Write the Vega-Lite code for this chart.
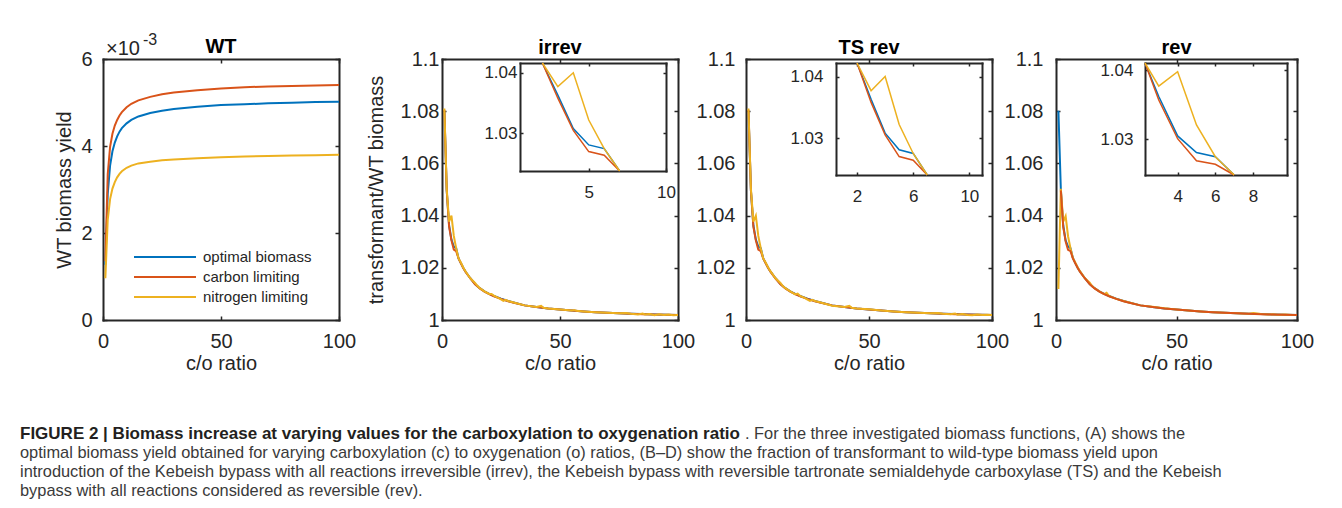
{
"$schema": "https://vega.github.io/schema/vega-lite/v6.json",
"background": "white",
"padding": {"left": 20, "top": 32, "right": 5, "bottom": 5},
"config": {
 "font": "Liberation Sans",
 "view": {"stroke": null},
 "axis": {"domainColor": "#262626", "domainWidth": 2, "domainCap": "square", "tickColor": "#262626", "tickWidth": 1.5, "tickSize": -4, "labelColor": "#262626", "titleColor": "#262626", "labelFont": "Liberation Sans", "titleFont": "Liberation Sans", "labelFontSize": 20, "titleFontSize": 20, "titleFontWeight": "normal", "grid": false, "labelFlush": false, "labelOverlap": false},
 "axisX": {"labelPadding": 15, "titlePadding": 2},
 "axisY": {"labelPadding": 15, "titlePadding": 6},
 "title": {"fontSize": 20, "fontWeight": "bold", "color": "#000000", "font": "Liberation Sans"}
},
"datasets": {
 "wt": [
  {"s":"optimal biomass","x":1,"y":0.00127},{"s":"optimal biomass","x":2,"y":0.0029},{"s":"optimal biomass","x":3,"y":0.00355},{"s":"optimal biomass","x":4,"y":0.00388},{"s":"optimal biomass","x":5,"y":0.00408},{"s":"optimal biomass","x":6,"y":0.00422},{"s":"optimal biomass","x":7,"y":0.00433},{"s":"optimal biomass","x":8,"y":0.00441},{"s":"optimal biomass","x":10,"y":0.00452},{"s":"optimal biomass","x":12,"y":0.0046},{"s":"optimal biomass","x":15,"y":0.00468},{"s":"optimal biomass","x":20,"y":0.00476},{"s":"optimal biomass","x":25,"y":0.00481},{"s":"optimal biomass","x":30,"y":0.00485},{"s":"optimal biomass","x":40,"y":0.0049},{"s":"optimal biomass","x":50,"y":0.00494},{"s":"optimal biomass","x":60,"y":0.00496},{"s":"optimal biomass","x":70,"y":0.00498},{"s":"optimal biomass","x":80,"y":0.004995},{"s":"optimal biomass","x":90,"y":0.00501},{"s":"optimal biomass","x":100,"y":0.00502},
  {"s":"carbon limiting","x":1,"y":0.00135},{"s":"carbon limiting","x":2,"y":0.00335},{"s":"carbon limiting","x":3,"y":0.00398},{"s":"carbon limiting","x":4,"y":0.00428},{"s":"carbon limiting","x":5,"y":0.00447},{"s":"carbon limiting","x":6,"y":0.0046},{"s":"carbon limiting","x":7,"y":0.0047},{"s":"carbon limiting","x":8,"y":0.00478},{"s":"carbon limiting","x":10,"y":0.00489},{"s":"carbon limiting","x":12,"y":0.00497},{"s":"carbon limiting","x":15,"y":0.00505},{"s":"carbon limiting","x":20,"y":0.00513},{"s":"carbon limiting","x":25,"y":0.00519},{"s":"carbon limiting","x":30,"y":0.00523},{"s":"carbon limiting","x":40,"y":0.00528},{"s":"carbon limiting","x":50,"y":0.00532},{"s":"carbon limiting","x":60,"y":0.00535},{"s":"carbon limiting","x":70,"y":0.00537},{"s":"carbon limiting","x":80,"y":0.00538},{"s":"carbon limiting","x":90,"y":0.00539},{"s":"carbon limiting","x":100,"y":0.0054},
  {"s":"nitrogen limiting","x":1,"y":0.00096},{"s":"nitrogen limiting","x":2,"y":0.0023},{"s":"nitrogen limiting","x":3,"y":0.00278},{"s":"nitrogen limiting","x":4,"y":0.00302},{"s":"nitrogen limiting","x":5,"y":0.00317},{"s":"nitrogen limiting","x":6,"y":0.00328},{"s":"nitrogen limiting","x":7,"y":0.00336},{"s":"nitrogen limiting","x":8,"y":0.00342},{"s":"nitrogen limiting","x":10,"y":0.0035},{"s":"nitrogen limiting","x":12,"y":0.00355},{"s":"nitrogen limiting","x":15,"y":0.0036},{"s":"nitrogen limiting","x":20,"y":0.00364},{"s":"nitrogen limiting","x":25,"y":0.00367},{"s":"nitrogen limiting","x":30,"y":0.00369},{"s":"nitrogen limiting","x":40,"y":0.00372},{"s":"nitrogen limiting","x":50,"y":0.00374},{"s":"nitrogen limiting","x":60,"y":0.00376},{"s":"nitrogen limiting","x":70,"y":0.00377},{"s":"nitrogen limiting","x":80,"y":0.00378},{"s":"nitrogen limiting","x":90,"y":0.00379},{"s":"nitrogen limiting","x":100,"y":0.0038}
 ],
 "tr": [
  {"p":"B","x":1,"o":1.08,"c":1.0805,"n":1.081},{"p":"B","x":2,"o":1.0496,"c":1.0496,"n":1.0503},{"p":"B","x":3,"o":1.0363,"c":1.0358,"n":1.0377},{"p":"B","x":4,"o":1.0308,"c":1.0305,"n":1.04},{"p":"B","x":5,"o":1.0281,"c":1.027,"n":1.0322},{"p":"B","x":6,"o":1.0275,"c":1.0264,"n":1.0275},{"p":"B","x":7,"o":1.0236,"c":1.0236,"n":1.0236},{"p":"B","x":8,"o":1.0218,"c":1.0217,"n":1.022},{"p":"B","x":9,"o":1.02,"c":1.0199,"n":1.0201},{"p":"B","x":10,"o":1.0185,"c":1.0184,"n":1.0186},{"p":"B","x":12,"o":1.016,"c":1.0159,"n":1.016},{"p":"B","x":14,"o":1.0138,"c":1.0137,"n":1.0142},{"p":"B","x":15,"n":1.0131},{"p":"B","x":16,"o":1.0122,"c":1.0121,"n":1.0122},{"p":"B","x":18,"o":1.011,"c":1.0109,"n":1.011},{"p":"B","x":20,"o":1.01,"c":1.0099,"n":1.01},{"p":"B","x":21,"n":1.01},{"p":"B","x":22,"o":1.0092,"c":1.0091,"n":1.0093},{"p":"B","x":24,"n":1.0084},{"p":"B","x":25,"o":1.0082,"c":1.0081,"n":1.0079},{"p":"B","x":26,"n":1.0073},{"p":"B","x":27,"n":1.0077},{"p":"B","x":28,"o":1.0073,"c":1.0072,"n":1.0073},{"p":"B","x":30,"o":1.0068,"c":1.0067,"n":1.0068},{"p":"B","x":35,"o":1.0056,"c":1.0056,"n":1.0056},{"p":"B","x":40,"o":1.005,"c":1.005,"n":1.005},{"p":"B","x":42,"n":1.0054},{"p":"B","x":43,"n":1.0047},{"p":"B","x":45,"o":1.0044,"c":1.0044,"n":1.0044},{"p":"B","x":50,"o":1.004,"c":1.004,"n":1.004},{"p":"B","x":55,"o":1.0036,"c":1.0036,"n":1.0036},{"p":"B","x":56,"n":1.0038},{"p":"B","x":57,"n":1.0035},{"p":"B","x":60,"o":1.0033,"c":1.0033,"n":1.0033},{"p":"B","x":65,"o":1.003,"c":1.003,"n":1.003},{"p":"B","x":70,"o":1.0028,"c":1.0028,"n":1.0028},{"p":"B","x":75,"o":1.0026,"c":1.0026,"n":1.0026},{"p":"B","x":78,"n":1.0027},{"p":"B","x":80,"o":1.0024,"c":1.0024,"n":1.0024},{"p":"B","x":83,"n":1.0021},{"p":"B","x":85,"o":1.0023,"c":1.0022,"n":1.0025},{"p":"B","x":86,"n":1.0021},{"p":"B","x":88,"n":1.0023},{"p":"B","x":90,"o":1.0021,"c":1.0021,"n":1.0018},{"p":"B","x":92,"n":1.0022},{"p":"B","x":94,"n":1.0019},{"p":"B","x":95,"o":1.002,"c":1.002},{"p":"B","x":96,"n":1.0021},{"p":"B","x":98,"n":1.0018},{"p":"B","x":100,"o":1.0019,"c":1.0019,"n":1.0019},
  {"p":"C","x":1,"o":1.08,"c":1.0805,"n":1.081},{"p":"C","x":2,"o":1.0496,"c":1.0496,"n":1.0503},{"p":"C","x":3,"o":1.0363,"c":1.0358,"n":1.0377},{"p":"C","x":4,"o":1.0308,"c":1.0305,"n":1.04},{"p":"C","x":5,"o":1.0281,"c":1.027,"n":1.0322},{"p":"C","x":6,"o":1.0275,"c":1.0264,"n":1.0275},{"p":"C","x":7,"o":1.0236,"c":1.0236,"n":1.0236},{"p":"C","x":8,"o":1.0218,"c":1.0217,"n":1.022},{"p":"C","x":9,"o":1.02,"c":1.0199,"n":1.0201},{"p":"C","x":10,"o":1.0185,"c":1.0184,"n":1.0186},{"p":"C","x":12,"o":1.016,"c":1.0159,"n":1.016},{"p":"C","x":14,"o":1.0138,"c":1.0137,"n":1.0142},{"p":"C","x":15,"n":1.013},{"p":"C","x":16,"o":1.0122,"c":1.0121,"n":1.0122},{"p":"C","x":18,"o":1.011,"c":1.0109,"n":1.011},{"p":"C","x":20,"o":1.01,"c":1.0099,"n":1.0098},{"p":"C","x":21,"n":1.0101},{"p":"C","x":22,"o":1.0092,"c":1.0091,"n":1.0092},{"p":"C","x":24,"n":1.0084},{"p":"C","x":25,"o":1.0082,"c":1.0081,"n":1.0078},{"p":"C","x":26,"n":1.0073},{"p":"C","x":27,"n":1.0077},{"p":"C","x":28,"o":1.0073,"c":1.0072,"n":1.0073},{"p":"C","x":30,"o":1.0068,"c":1.0067,"n":1.0068},{"p":"C","x":35,"o":1.0056,"c":1.0056,"n":1.0055},{"p":"C","x":40,"o":1.005,"c":1.005,"n":1.005},{"p":"C","x":42,"n":1.0054},{"p":"C","x":43,"n":1.0047},{"p":"C","x":45,"o":1.0044,"c":1.0044,"n":1.0044},{"p":"C","x":50,"o":1.004,"c":1.004,"n":1.0041},{"p":"C","x":55,"o":1.0036,"c":1.0036,"n":1.0036},{"p":"C","x":60,"o":1.0033,"c":1.0033,"n":1.0033},{"p":"C","x":65,"o":1.003,"c":1.003,"n":1.003},{"p":"C","x":70,"o":1.0028,"c":1.0028,"n":1.0028},{"p":"C","x":75,"o":1.0026,"c":1.0026,"n":1.0026},{"p":"C","x":78,"n":1.0027},{"p":"C","x":80,"o":1.0024,"c":1.0024,"n":1.0024},{"p":"C","x":83,"n":1.0022},{"p":"C","x":85,"o":1.0023,"c":1.0022,"n":1.0025},{"p":"C","x":86,"n":1.002},{"p":"C","x":88,"n":1.0023},{"p":"C","x":90,"o":1.0021,"c":1.0021,"n":1.0019},{"p":"C","x":92,"n":1.0018},{"p":"C","x":94,"n":1.0021},{"p":"C","x":95,"o":1.002,"c":1.002},{"p":"C","x":96,"n":1.0019},{"p":"C","x":98,"n":1.002},{"p":"C","x":100,"o":1.0019,"c":1.0019,"n":1.0019},
  {"p":"D","x":1,"o":1.0802,"n":1.0119},{"p":"D","x":2,"o":1.0502,"c":1.0496,"n":1.0503},{"p":"D","x":3,"o":1.0362,"c":1.0357,"n":1.0377},{"p":"D","x":4,"o":1.0305,"c":1.0301,"n":1.0398},{"p":"D","x":5,"o":1.0281,"c":1.0269,"n":1.0321},{"p":"D","x":6,"o":1.0275,"c":1.0264,"n":1.0275},{"p":"D","x":7,"o":1.0238,"c":1.0236,"n":1.0238},{"p":"D","x":8,"o":1.0218,"c":1.0217,"n":1.022},{"p":"D","x":9,"o":1.02,"c":1.0199,"n":1.0201},{"p":"D","x":10,"o":1.0185,"c":1.0184,"n":1.0186},{"p":"D","x":12,"o":1.016,"c":1.0159,"n":1.016},{"p":"D","x":14,"o":1.0138,"c":1.0137,"n":1.0143},{"p":"D","x":15,"n":1.013},{"p":"D","x":16,"o":1.0122,"c":1.0121,"n":1.0122},{"p":"D","x":18,"o":1.011,"c":1.0109,"n":1.011},{"p":"D","x":20,"o":1.01,"c":1.0099,"n":1.0099},{"p":"D","x":21,"n":1.0104},{"p":"D","x":22,"o":1.0092,"c":1.0091,"n":1.0092},{"p":"D","x":25,"o":1.0082,"c":1.0081,"n":1.0081},{"p":"D","x":28,"o":1.0073,"c":1.0072,"n":1.0073},{"p":"D","x":30,"o":1.0068,"c":1.0067,"n":1.0068},{"p":"D","x":35,"o":1.0056,"c":1.0056,"n":1.0056},{"p":"D","x":40,"o":1.005,"c":1.005,"n":1.0051},{"p":"D","x":45,"o":1.0044,"c":1.0044,"n":1.0045},{"p":"D","x":50,"o":1.004,"c":1.004,"n":1.004},{"p":"D","x":55,"o":1.0036,"c":1.0036,"n":1.0036},{"p":"D","x":60,"o":1.0033,"c":1.0033,"n":1.0033},{"p":"D","x":65,"o":1.003,"c":1.003,"n":1.003},{"p":"D","x":70,"o":1.0028,"c":1.0028,"n":1.0028},{"p":"D","x":75,"o":1.0026,"c":1.0026,"n":1.0026},{"p":"D","x":80,"o":1.0024,"c":1.0024,"n":1.0024},{"p":"D","x":82,"n":1.0027},{"p":"D","x":85,"o":1.0023,"c":1.0022,"n":1.0023},{"p":"D","x":88,"n":1.0021},{"p":"D","x":90,"o":1.0021,"c":1.0021,"n":1.0022},{"p":"D","x":92,"n":1.002},{"p":"D","x":95,"o":1.002,"c":1.002,"n":1.0021},{"p":"D","x":98,"n":1.0019},{"p":"D","x":100,"o":1.0019,"c":1.0019,"n":1.0019}
 ],
 "cap": [
  {"n":1,"k":"b","t":"FIGURE 2 | Biomass increase at varying values for the carboxylation to oxygenation ratio"},
  {"n":1,"k":"r","t":". For the three investigated biomass functions, (A) shows the"},
  {"n":2,"k":"n","t":"optimal biomass yield obtained for varying carboxylation (c) to oxygenation (o) ratios, (B–D) show the fraction of transformant to wild-type biomass yield upon"},
  {"n":3,"k":"n","t":"introduction of the Kebeish bypass with all reactions irreversible (irrev), the Kebeish bypass with reversible tartronate semialdehyde carboxylase (TS) and the Kebeish"},
  {"n":4,"k":"n","t":"bypass with all reactions considered as reversible (rev)."}
 ]
},
"bounds": "flush",
"spacing": 365,
"vconcat": [
 {
  "bounds": "flush",
  "spacing": 103,
  "resolve": {"scale": {"color": "independent"}},
  "hconcat": [
   {
    "width": 236, "height": 261,
    "title": {"text": "WT", "offset": -25},
    "data": {"name": "wt"},
    "layer": [
     {"mark": {"type": "line", "strokeWidth": 2},
      "encoding": {
       "x": {"field": "x", "type": "quantitative", "scale": {"domain": [0, 100], "nice": false}, "axis": {"orient": "bottom", "values": [0, 50, 100], "title": "c/o ratio"}},
       "y": {"field": "y", "type": "quantitative", "scale": {"domain": [0, 0.006], "nice": false}, "axis": {"orient": "left", "values": [0, 0.002, 0.004, 0.006], "labelExpr": "format(datum.value*1000, '~g')", "title": "WT biomass yield"}},
       "color": {"field": "s", "type": "nominal", "scale": {"domain": ["optimal biomass", "carbon limiting", "nitrogen limiting"], "range": ["#0072BD", "#D95319", "#EDB120"]},
        "legend": {"orient": "none", "legendX": 30, "legendY": 188, "title": null, "symbolType": "stroke", "symbolSize": 3844, "symbolStrokeWidth": 2, "clipHeight": 20, "rowPadding": 0, "padding": 0, "labelFontSize": 15, "labelOffset": 6, "labelColor": "#262626", "labelFont": "Liberation Sans"}}
      }},
     {"mark": {"type": "point", "opacity": 0},
      "encoding": {
       "x": {"field": "x", "type": "quantitative", "axis": {"orient": "top", "values": [0, 50, 100], "labels": false, "title": null}},
       "y": {"field": "y", "type": "quantitative", "axis": {"orient": "right", "values": [0, 0.002, 0.004, 0.006], "labels": false, "title": null}}
      }},
     {"data": {"values": [{"t": "×10"}]},
      "mark": {"type": "text", "align": "left", "baseline": "alphabetic", "fontSize": 20, "dx": 3, "dy": -4, "color": "#262626"},
      "encoding": {"x": {"datum": 0, "type": "quantitative", "axis": null}, "y": {"datum": 0.006, "type": "quantitative", "axis": null}, "text": {"field": "t"}}},
     {"data": {"values": [{"t": "-3"}]},
      "mark": {"type": "text", "align": "left", "baseline": "alphabetic", "fontSize": 16, "dx": 40, "dy": -14, "color": "#262626"},
      "encoding": {"x": {"datum": 0, "type": "quantitative", "axis": null}, "y": {"datum": 0.006, "type": "quantitative", "axis": null}, "text": {"field": "t"}}}
    ],
    "resolve": {"axis": {"x": "independent", "y": "independent"}}
   },
   {
    "bounds": "flush",
    "spacing": 68,
    "hconcat": [
     {
      "width": 236, "height": 261,
      "title": {"text": "irrev", "offset": -9},
      "data": {"name": "tr"},
      "transform": [{"fold": ["o", "c", "n"], "as": ["s", "y"]}, {"filter": "isValid(datum.y) && datum.p == 'B'"}],
      "layer": [
       {
        "layer": [
         {"mark": {"type": "line", "strokeWidth": 2},
          "encoding": {
           "x": {"field": "x", "type": "quantitative", "scale": {"domain": [0, 100], "nice": false}, "axis": {"orient": "bottom", "values": [0, 50, 100], "title": "c/o ratio"}},
           "y": {"field": "y", "type": "quantitative", "scale": {"domain": [1, 1.1], "nice": false}, "axis": {"orient": "left", "values": [1, 1.02, 1.04, 1.06, 1.08, 1.1], "format": "~g", "title": "transformant/WT biomass", "labelPadding": 7, "titlePadding": 14}},
           "color": {"field": "s", "type": "nominal", "scale": {"domain": ["o", "c", "n"], "range": ["#0072BD", "#D95319", "#EDB120"]}, "legend": null}
          }},
         {"mark": {"type": "point", "opacity": 0},
          "encoding": {
           "x": {"field": "x", "type": "quantitative", "axis": {"orient": "top", "values": [0, 50, 100], "labels": false, "title": null}},
           "y": {"field": "y", "type": "quantitative", "axis": {"orient": "right", "values": [1, 1.02, 1.04, 1.06, 1.08, 1.1], "labels": false, "title": null}}
          }}
        ],
        "resolve": {"axis": {"x": "independent", "y": "independent"}}
       },
       {
        "transform": [{"filter": "datum.x >= 2 && datum.x <= 7"}],
        "layer": [
         {"mark": {"type": "line", "strokeWidth": 1.5},
          "encoding": {
           "x": {"field": "x", "type": "quantitative", "scale": {"domain": [0.55, 10], "range": [78, 224], "clamp": true, "nice": false}, "axis": {"orient": "bottom", "offset": -149, "values": [5, 10], "title": null, "labelFontSize": 17, "tickSize": -3, "labelPadding": 16}},
           "y": {"field": "y", "type": "quantitative", "scale": {"domain": [1.0238, 1.0416], "range": [112, 4], "clamp": true, "nice": false}, "axis": {"orient": "left", "offset": -78, "values": [1.03, 1.04], "title": null, "labelFontSize": 17, "tickSize": -3, "labelPadding": 6}},
           "color": {"field": "s", "type": "nominal", "legend": null}
          }},
         {"mark": {"type": "point", "opacity": 0},
          "encoding": {
           "x": {"field": "x", "type": "quantitative", "axis": {"orient": "top", "offset": -4, "values": [5, 10], "labels": false, "title": null, "tickSize": -3}},
           "y": {"field": "y", "type": "quantitative", "axis": {"orient": "right", "offset": -12, "values": [1.03, 1.04], "labels": false, "title": null, "tickSize": -3}}
          }}
        ],
        "resolve": {"axis": {"x": "independent", "y": "independent"}}
       }
      ],
      "resolve": {"scale": {"x": "independent", "y": "independent"}}
     },
     {
      "bounds": "flush",
      "spacing": 64,
      "hconcat": [
       {
        "width": 246, "height": 261,
        "title": {"text": "TS rev", "offset": -9},
        "data": {"name": "tr"},
        "transform": [{"fold": ["o", "c", "n"], "as": ["s", "y"]}, {"filter": "isValid(datum.y) && datum.p == 'C'"}],
        "layer": [
         {
          "layer": [
           {"mark": {"type": "line", "strokeWidth": 2},
            "encoding": {
             "x": {"field": "x", "type": "quantitative", "scale": {"domain": [0, 100], "nice": false}, "axis": {"orient": "bottom", "values": [0, 50, 100], "title": "c/o ratio"}},
             "y": {"field": "y", "type": "quantitative", "scale": {"domain": [1, 1.1], "nice": false}, "axis": {"orient": "left", "values": [1, 1.02, 1.04, 1.06, 1.08, 1.1], "format": "~g", "title": null}},
             "color": {"field": "s", "type": "nominal", "scale": {"domain": ["o", "c", "n"], "range": ["#0072BD", "#D95319", "#EDB120"]}, "legend": null}
            }},
           {"mark": {"type": "point", "opacity": 0},
            "encoding": {
             "x": {"field": "x", "type": "quantitative", "axis": {"orient": "top", "values": [0, 50, 100], "labels": false, "title": null}},
             "y": {"field": "y", "type": "quantitative", "axis": {"orient": "right", "values": [1, 1.02, 1.04, 1.06, 1.08, 1.1], "labels": false, "title": null}}
            }}
          ],
          "resolve": {"axis": {"x": "independent", "y": "independent"}}
         },
         {
          "transform": [{"filter": "datum.x >= 2 && datum.x <= 7"}],
          "layer": [
           {"mark": {"type": "line", "strokeWidth": 1.5},
            "encoding": {
             "x": {"field": "x", "type": "quantitative", "scale": {"domain": [0.5, 10.9], "range": [90, 236], "clamp": true, "nice": false}, "axis": {"orient": "bottom", "offset": -145, "values": [2, 6, 10], "title": null, "labelFontSize": 17, "tickSize": -3, "labelPadding": 16}},
             "y": {"field": "y", "type": "quantitative", "scale": {"domain": [1.024, 1.0422], "range": [116, 4], "clamp": true, "nice": false}, "axis": {"orient": "left", "offset": -90, "values": [1.03, 1.04], "title": null, "labelFontSize": 17, "tickSize": -3, "labelPadding": 16}},
             "color": {"field": "s", "type": "nominal", "legend": null}
            }},
           {"mark": {"type": "point", "opacity": 0},
            "encoding": {
             "x": {"field": "x", "type": "quantitative", "axis": {"orient": "top", "offset": -4, "values": [2, 6, 10], "labels": false, "title": null, "tickSize": -3}},
             "y": {"field": "y", "type": "quantitative", "axis": {"orient": "right", "offset": -10, "values": [1.03, 1.04], "labels": false, "title": null, "tickSize": -3}}
            }}
          ],
          "resolve": {"axis": {"x": "independent", "y": "independent"}}
         }
        ],
        "resolve": {"scale": {"x": "independent", "y": "independent"}}
       },
       {
        "width": 241, "height": 261,
        "title": {"text": "rev", "offset": -9},
        "data": {"name": "tr"},
        "transform": [{"fold": ["o", "c", "n"], "as": ["s", "y"]}, {"filter": "isValid(datum.y) && datum.p == 'D'"}],
        "layer": [
         {
          "layer": [
           {"mark": {"type": "line", "strokeWidth": 2},
            "encoding": {
             "x": {"field": "x", "type": "quantitative", "scale": {"domain": [0, 100], "nice": false}, "axis": {"orient": "bottom", "values": [0, 50, 100], "title": "c/o ratio"}},
             "y": {"field": "y", "type": "quantitative", "scale": {"domain": [1, 1.1], "nice": false}, "axis": {"orient": "left", "values": [1, 1.02, 1.04, 1.06, 1.08, 1.1], "format": "~g", "title": null, "labelPadding": 17}},
             "color": {"field": "s", "type": "nominal", "scale": {"domain": ["o", "c", "n"], "range": ["#0072BD", "#D95319", "#EDB120"]}, "legend": null}
            }},
           {"mark": {"type": "point", "opacity": 0},
            "encoding": {
             "x": {"field": "x", "type": "quantitative", "axis": {"orient": "top", "values": [0, 50, 100], "labels": false, "title": null}},
             "y": {"field": "y", "type": "quantitative", "axis": {"orient": "right", "values": [1, 1.02, 1.04, 1.06, 1.08, 1.1], "labels": false, "title": null}}
            }}
          ],
          "resolve": {"axis": {"x": "independent", "y": "independent"}}
         },
         {
          "transform": [{"filter": "datum.x >= 2 && datum.x <= 7"}],
          "layer": [
           {"mark": {"type": "line", "strokeWidth": 1.5},
            "encoding": {
             "x": {"field": "x", "type": "quantitative", "scale": {"domain": [2.27, 9.8], "range": [89, 231], "clamp": true, "nice": false}, "axis": {"orient": "bottom", "offset": -145, "values": [4, 6, 8], "title": null, "labelFontSize": 17, "tickSize": -3, "labelPadding": 16}},
             "y": {"field": "y", "type": "quantitative", "scale": {"domain": [1.02485, 1.04105], "range": [116, 4], "clamp": true, "nice": false}, "axis": {"orient": "left", "offset": -89, "values": [1.03, 1.04], "title": null, "labelFontSize": 17, "tickSize": -3, "labelPadding": 15}},
             "color": {"field": "s", "type": "nominal", "legend": null}
            }},
           {"mark": {"type": "point", "opacity": 0},
            "encoding": {
             "x": {"field": "x", "type": "quantitative", "axis": {"orient": "top", "offset": -4, "values": [4, 6, 8], "labels": false, "title": null, "tickSize": -3}},
             "y": {"field": "y", "type": "quantitative", "axis": {"orient": "right", "offset": -10, "values": [1.03, 1.04], "labels": false, "title": null, "tickSize": -3}}
            }}
          ],
          "resolve": {"axis": {"x": "independent", "y": "independent"}}
         }
        ],
        "resolve": {"scale": {"x": "independent", "y": "independent"}}
       }
      ]
     }
    ]
   }
  ]
 },
 {
  "width": 1082, "height": 76,
  "data": {"name": "cap"},
  "encoding": {
   "y": {"field": "n", "type": "quantitative", "scale": {"domain": [0.5, 4.5], "reverse": true, "nice": false}, "axis": null},
   "text": {"field": "t"}
  },
  "layer": [
   {"transform": [{"filter": "datum.k == 'b'"}], "mark": {"type": "text", "align": "left", "baseline": "middle", "fontSize": 17, "fontWeight": "bold", "dx": -83, "color": "#231f20"}, "encoding": {"x": {"value": 0}}},
   {"transform": [{"filter": "datum.k == 'r'"}], "mark": {"type": "text", "align": "right", "baseline": "middle", "fontSize": 16.4, "color": "#3a3a3a"}, "encoding": {"x": {"value": "width"}}},
   {"transform": [{"filter": "datum.k == 'n'"}], "mark": {"type": "text", "align": "left", "baseline": "middle", "fontSize": 16.4, "dx": -83, "color": "#3a3a3a"}, "encoding": {"x": {"value": 0}}}
  ]
 }
]
}
